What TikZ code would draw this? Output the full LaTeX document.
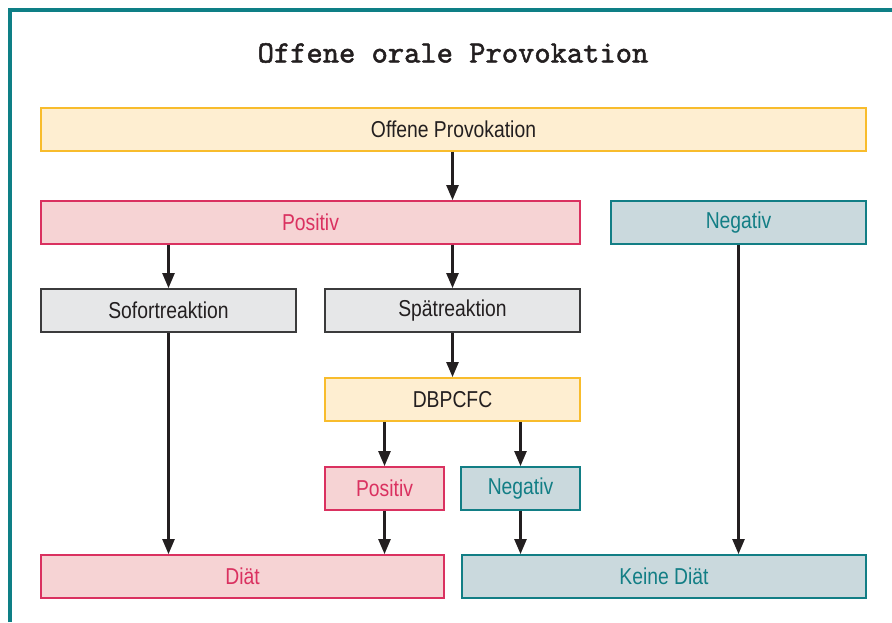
\documentclass[tikz,border=0pt]{standalone}
\usepackage{fontspec}
\setmainfont{Liberation Sans}[FakeStretch=0.84]
\newfontfamily\titelfont{lmmono10-regular}[Extension=.otf, FakeBold=1.6]
\usepackage{xcolor}
\usepackage{tikz}
\usetikzlibrary{arrows.meta, positioning}

\definecolor{rand}{HTML}{0E7F86}
\definecolor{gelbrand}{HTML}{F8BC2C}
\definecolor{gelbfill}{HTML}{FEEED1}
\definecolor{rotrand}{HTML}{DA3160}
\definecolor{rotfill}{HTML}{F6D3D4}
\definecolor{tuerkisrand}{HTML}{127E85}
\definecolor{tuerkisfill}{HTML}{CAD9DD}
\definecolor{graufill}{HTML}{E6E7E8}
\definecolor{graurand}{HTML}{3B3B3C}
\definecolor{pfeil}{HTML}{231F20}

\begin{document}
\begin{tikzpicture}[x=1pt, y=-1pt,
    box/.style={draw, line width=1.8pt, minimum height=43pt, inner sep=0pt,
        font=\fontsize{23}{26}\selectfont},
    gelb/.style={box, draw=gelbrand, fill=gelbfill, text=pfeil},
    rot/.style={box, draw=rotrand, fill=rotfill, text=rotrand},
    tuerkis/.style={box, draw=tuerkisrand, fill=tuerkisfill, text=tuerkisrand},
    grau/.style={box, draw=graurand, fill=graufill, text=pfeil},
    pf/.style={draw=pfeil, line width=2.4pt,
        -{Triangle[width=12pt, length=15pt]}}]
    \useasboundingbox (0,0) rectangle (892,622);

    % 1. Rahmen und Titel
    \draw[rand, line width=4pt] (10,622) -- (10,10) -- (892,10);
    \node[font=\titelfont\fontsize{31}{34}\selectfont, text=pfeil] (titel) at (453,53)
        {Offene orale Provokation};

    % 2. Kästen
    \node[gelb, minimum width=825pt] (offen) at (453.5,129.5) {Offene Provokation};
    \node[rot, minimum width=539pt] (pos) at (310.5,222.5) {Positiv};
    \node[tuerkis, minimum width=255pt] (neg) at (738.5,222.5) {Negativ};
    \node[grau, minimum width=255pt] (sofort) at (168.5,310.5) {Sofortreaktion};
    \node[grau, minimum width=255pt] (spaet) at (452.5,310.5) {Spätreaktion};
    \node[gelb, minimum width=255pt] (dbpcfc) at (452.5,399.5) {DBPCFC};
    \node[rot, minimum width=119pt] (posb) at (384.5,488.5) {Positiv};
    \node[tuerkis, minimum width=119pt] (negb) at (520.5,488.5) {Negativ};
    \node[rot, minimum width=403pt] (diaet) at (242.5,576.5) {Diät};
    \node[tuerkis, minimum width=404pt] (keine) at (664,576.5) {Keine Diät};

    % 3. Pfeile
    \draw[pf] (offen.south -| spaet.north) -- (pos.north -| spaet.north);
    \draw[pf] (sofort.north |- pos.south) -- (sofort.north);
    \draw[pf] (spaet.north |- pos.south) -- (spaet.north);
    \draw[pf] (spaet) -- (dbpcfc);
    \draw[pf] (posb.north |- dbpcfc.south) -- (posb.north);
    \draw[pf] (negb.north |- dbpcfc.south) -- (negb.north);
    \draw[pf] (sofort.south) -- (sofort.south |- diaet.north);
    \draw[pf] (posb.south) -- (posb.south |- diaet.north);
    \draw[pf] (negb.south) -- (negb.south |- keine.north);
    \draw[pf] (neg.south) -- (neg.south |- keine.north);
\end{tikzpicture}
\end{document}
